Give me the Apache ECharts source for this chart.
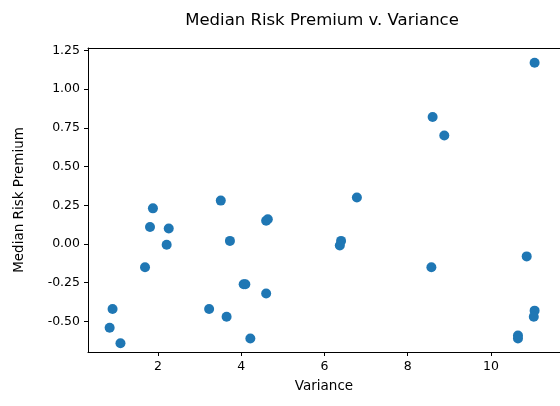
<!DOCTYPE html>
<html><head><meta charset="utf-8">
<script src="https://cdn.jsdelivr.net/npm/echarts@6/dist/echarts.min.js"></script>
<style>html,body{margin:0;background:#fff}#c{width:560px;height:406px}</style>
</head><body><div id="c"></div>
<script>
const variance=[11.05,8.6,8.88,6.78,6.4,6.37,8.57,10.86,11.05,11.03,10.65,10.65,3.51,3.73,4.6,4.64,4.06,4.1,4.6,3.23,3.65,4.22,1.88,1.81,2.26,2.21,1.69,0.91,0.84,1.1];
const premium=[1.17,0.82,0.70,0.30,0.02,-0.01,-0.15,-0.08,-0.43,-0.47,-0.59,-0.61,0.28,0.02,0.15,0.16,-0.26,-0.26,-0.32,-0.42,-0.47,-0.61,0.23,0.11,0.10,-0.005,-0.15,-0.42,-0.54,-0.64];
const xTicks=[2,4,6,8,10];
const yTicks=[-0.5,-0.25,0,0.25,0.5,0.75,1,1.25];
const ch=echarts.init(document.getElementById('c'));
const font='DejaVu Sans';
ch.setOption({
 animation:false,
 title:{text:'Median Risk Premium v. Variance',left:317,top:7,textAlign:'center',textStyle:{fontFamily:font,fontSize:16.5,fontWeight:'normal',color:'#000'}},
 grid:{left:88,right:-8,top:48,bottom:54},
 xAxis:[{type:'value',min:0.32,max:11.66,name:'Variance',nameLocation:'middle',nameGap:27,
   nameTextStyle:{fontFamily:font,fontSize:13.5,color:'#000'},
   axisLine:{onZero:false,lineStyle:{color:'#000'}},axisTick:{length:4,customValues:xTicks,lineStyle:{color:'#000'}},
   axisLabel:{fontFamily:font,fontSize:12.5,color:'#000',customValues:xTicks},
   splitLine:{show:false}},
  {type:'value',position:'top',min:0.32,max:11.66,axisLine:{show:true,onZero:false,lineStyle:{color:'#000'}},axisTick:{show:false},axisLabel:{show:false},splitLine:{show:false}}],
 yAxis:{type:'value',min:-0.697,max:1.265,name:'Median Risk Premium',nameLocation:'middle',nameGap:62,
   nameTextStyle:{fontFamily:font,fontSize:13.5,color:'#000'},
   axisLine:{show:true,onZero:false,lineStyle:{color:'#000'}},axisTick:{show:true,length:4,customValues:yTicks,lineStyle:{color:'#000'}},
   axisLabel:{fontFamily:font,fontSize:12.5,color:'#000',customValues:yTicks,formatter:v=>v.toFixed(2)},
   splitLine:{show:false}},
 series:[{type:'scatter',symbolSize:10,itemStyle:{color:'#1f77b4',opacity:1},data:variance.map((v,i)=>[v,premium[i]])}]
});
</script></body></html>
